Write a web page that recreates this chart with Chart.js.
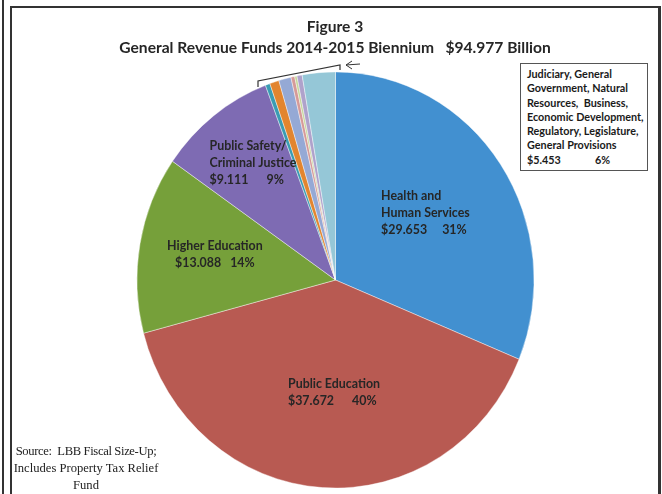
<!DOCTYPE html>
<html>
<head>
<meta charset="utf-8">
<script src="https://cdn.jsdelivr.net/npm/chart.js@4"></script>
<style>
  html, body { margin:0; padding:0; background:#fff; }
  #wrap { position:relative; width:662px; height:494px; overflow:hidden; font-family:Lato, "Open Sans", sans-serif; }
  #chartBox { position:absolute; left:0; top:0; width:662px; height:494px; }
  .frameOuter { position:absolute; left:2px; top:0; width:2px; height:494px; background:#333; }
  .frameInner { position:absolute; left:10px; top:6px; width:646px; height:500px; border-left:2px solid #333; border-top:2px solid #333; border-right:3px solid #333; }
  #title { position:absolute; left:0; width:662px; text-align:center; font-weight:bold; color:#262626; font-size:15.6px; line-height:21px; top:16px; transform:translateX(4px); }
  #note { position:absolute; left:520px; top:63px; width:120px; height:100px; border:1px solid #555; background:#fff; padding:3px 0 3px 6px;
          font-weight:bold; font-size:10.8px; line-height:14.3px; color:#1a1a1a; }
  #source { position:absolute; left:-4px; top:443px; width:180px; text-align:center; font-family:"Liberation Serif", "DejaVu Serif", serif;
            font-size:12.6px; line-height:17px; color:#222; white-space:nowrap; }
  #source .tight { letter-spacing:-0.35px; }
  svg { position:absolute; left:0; top:0; }
</style>
</head>
<body>
<div id="wrap">
  <div id="chartBox"><canvas id="pie"></canvas></div>
  <div class="frameOuter"></div>
  <div class="frameInner"></div>
  <div id="title">Figure 3<br>General Revenue Funds 2014-2015 Biennium&nbsp;&nbsp;&nbsp;$94.977 Billion</div>
  <div id="note">Judiciary, General Government, Natural Resources,&nbsp; Business, Economic Development, Regulatory, Legislature, General Provisions<br>$5.453&nbsp;&nbsp;&nbsp;&nbsp;&nbsp;&nbsp;&nbsp;&nbsp;&nbsp;&nbsp;&nbsp;&nbsp;&nbsp;6%</div>
  <svg width="662" height="494">
    <polyline points="258,87 258,81 340,65 340,70" fill="none" stroke="#333" stroke-width="1.2"/>
    <line x1="346" y1="65" x2="360" y2="64" stroke="#333" stroke-width="1"/>
    <polyline points="352,61 346,65 352,69" fill="none" stroke="#333" stroke-width="1"/>
  </svg>
  <div id="source"><span class="tight">Source:&nbsp; LBB Fiscal Size-Up;</span><br>Includes Property Tax Relief<br>Fund</div>
</div>
<script>
// billions of dollars, clockwise from 12 o'clock
const categories = [
  "Health and Human Services", "Public Education", "Higher Education", "Public Safety/Criminal Justice",
  "Judiciary", "General Government", "Natural Resources", "Business & Economic Development",
  "Regulatory", "Legislature", "General Provisions"
];
const amounts = [29.653, 37.672, 13.088, 9.111, 0.36, 0.72, 0.95, 0.29, 0.18, 0.40, 2.553];
const percents = ["31%", "40%", "14%", "9%"];
const labelLines = [
  ["Health and", "Human Services"],
  ["Public Education"],
  ["Higher Education"],
  ["Public Safety/", "Criminal Justice"]
];
const amountText = ["$29.653", "$37.672", "$13.088", "$9.111"];
const gapText = ["     ", "      ", "   ", "      "];

const colors = ["#4290d0", "#b85a52", "#76a03a", "#7e6bb3", "#3a9cb3", "#e2852f", "#95a9d5",
                "#d69a98", "#c5d79a", "#afa2cb", "#95c7d7"];

// the printed pie is a little taller than wide
const stretchX = 0.978, stretchY = 1.025;

// where each label block sits: fraction of radius, angle nudge (deg), alignment
const labelPlace = [
  { r:0.555, da:-1.5, align:"left" },
  { r:0.54, da:-3, align:"left" },
  { r:0.62, da:1.5, align:"center" },
  { r:0.70, da:1.5, align:"left" }
];

const ovalPie = {
  id: "ovalPie",
  beforeDatasetsDraw(chart) {
    const a = chart.getDatasetMeta(0).data[0];
    const ctx = chart.ctx;
    ctx.save();
    ctx.translate(a.x, a.y);
    ctx.scale(stretchX, stretchY);
    ctx.translate(-a.x, -a.y);
  },
  afterDatasetsDraw(chart) {
    chart.ctx.restore();
  }
};

const sliceLabels = {
  id: "sliceLabels",
  afterDatasetsDraw(chart) {
    const ctx = chart.ctx;
    const arcs = chart.getDatasetMeta(0).data;
    ctx.save();
    ctx.font = "bold 12.4px Lato, 'Open Sans', sans-serif";
    ctx.fillStyle = "#262626";
    ctx.textBaseline = "middle";
    const lh = 17;
    labelLines.forEach((names, i) => {
      const a = arcs[i];
      const p = labelPlace[i];
      const mid = (a.startAngle + a.endAngle) / 2 + p.da * Math.PI / 180;
      const cx = a.x + Math.cos(mid) * a.outerRadius * p.r * stretchX;
      const cy = a.y + Math.sin(mid) * a.outerRadius * p.r * stretchY;
      const lines = names.concat([amountText[i] + gapText[i] + percents[i]]);
      const w = Math.max(...lines.map(t => ctx.measureText(t).width));
      const top = cy - (lines.length - 1) * lh / 2;
      lines.forEach((t, k) => {
        if (p.align === "center") {
          ctx.textAlign = "center";
          ctx.fillText(t, cx, top + k * lh);
        } else {
          ctx.textAlign = "left";
          ctx.fillText(t, cx - w / 2, top + k * lh);
        }
      });
    });
    ctx.restore();
  }
};

new Chart(document.getElementById("pie").getContext("2d"), {
  type: "pie",
  data: {
    labels: categories,
    datasets: [{
      data: amounts,
      backgroundColor: colors,
      borderColor: "rgba(255,255,255,0.7)",
      borderWidth: 0.6,
      hoverOffset: 0,
      radius: 203
    }]
  },
  options: {
    responsive: true,
    maintainAspectRatio: false,
    animation: false,
    layout: { padding: { left:109, right:100, top:76, bottom:10 } },
    plugins: { legend: { display:false }, tooltip: { enabled:false } }
  },
  plugins: [ovalPie, sliceLabels]
});
</script>
</body>
</html>
